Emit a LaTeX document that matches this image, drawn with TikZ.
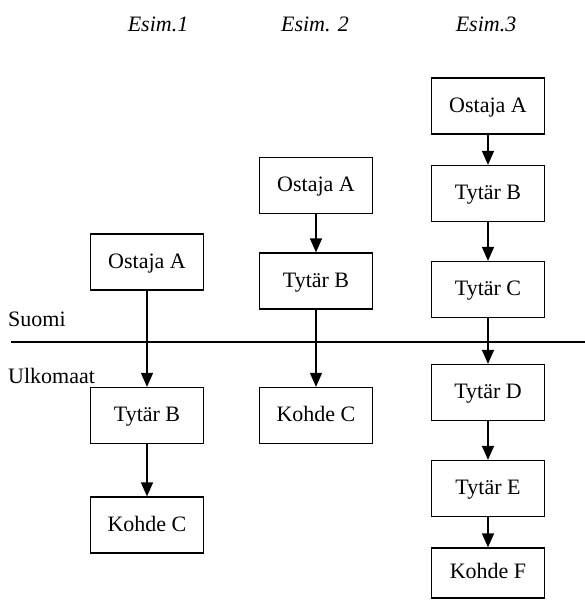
\documentclass[tikz,border=0pt]{standalone}
\usepackage{fontspec}
\setmainfont{Liberation Serif}
\usetikzlibrary{arrows.meta}
\begin{document}
\begin{tikzpicture}[x=1pt,y=-1pt,
    every node/.style={font=\fontsize{22}{26}\selectfont,inner sep=0pt},
    yritys/.style={draw,line width=1.2pt,minimum width=113pt,minimum height=56pt,
      text height=16pt,text depth=4pt},
    otsikko/.style={anchor=base,font=\fontsize{22}{26}\selectfont\itshape},
    nuoli/.style={-{Triangle[width=12pt,length=14pt]},line width=1.5pt}]
  \useasboundingbox (0,0) rectangle (585,600);
  % otsikot
  \node[otsikko] (esim1) at (158,31) {Esim.1};
  \node[otsikko] (esim2) at (315,31) {Esim. 2};
  \node[otsikko] (esim3) at (486,31) {Esim.3};
  % raja
  \coordinate (raja0) at (11,342);
  \coordinate (raja1) at (585,342);
  \draw[line width=1.2pt] (raja0) -- (raja1);
  \node[anchor=base west] (suomi) at (8,326) {Suomi};
  \node[anchor=base west] (ulkomaat) at (8,383) {Ulkomaat};
  % esim. 1
  \node[yritys] (oA1) at (147,262) {Ostaja A};
  \node[yritys] (tB1) at (147,415.5) {Tytär B};
  \node[yritys] (kC1) at (147,525) {Kohde C};
  % esim. 2
  \node[yritys] (oA2) at (316,185.5) {Ostaja A};
  \node[yritys] (tB2) at (316,281) {Tytär B};
  \node[yritys] (kC2) at (316,415.5) {Kohde C};
  % esim. 3
  \node[yritys] (oA3) at (488,106) {Ostaja A};
  \node[yritys] (tB3) at (488,193.5) {Tytär B};
  \node[yritys] (tC3) at (488,289.5) {Tytär C};
  \node[yritys] (tD3) at (488,392.5) {Tytär D};
  \node[yritys] (tE3) at (488,488.5) {Tytär E};
  \node[yritys,minimum height=50pt,text height=14pt] (kF3) at (488,573) {Kohde F};
  \begin{scope}[nuoli]
    \draw (oA1) to (tB1);
    \draw (tB1) to (kC1);
    \draw (oA2) to (tB2);
    \draw (tB2) to (kC2);
    \draw (oA3) to (tB3);
    \draw (tB3) to (tC3);
    \draw (tC3) to (tD3);
    \draw (tD3) to (tE3);
    \draw (tE3) to (kF3);
  \end{scope}
\end{tikzpicture}
\end{document}
